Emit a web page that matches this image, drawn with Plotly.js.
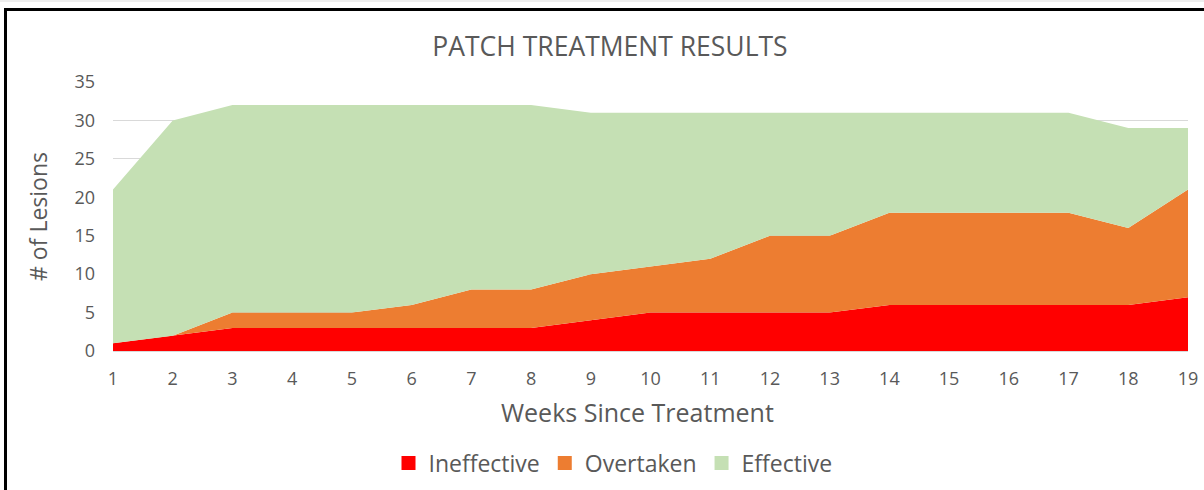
<!DOCTYPE html>
<html>
<head>
<meta charset="utf-8">
<script src="https://cdn.plot.ly/plotly-3.0.1.min.js"></script>
<style>
html, body { margin: 0; padding: 0; background: #fff; }
#wrap { position: relative; width: 1204px; height: 490px; overflow: hidden; }
#chart { position: absolute; left: 0; top: 0; width: 1204px; height: 490px; }
#frame { position: absolute; left: 4px; top: 8px; width: 1300px; height: 600px;
  border-left: 3px solid #000; border-top: 3px solid #000; pointer-events: none; }
#topline { position: absolute; left: 0; top: 0; width: 1204px; height: 2px; background: #eee; }
</style>
</head>
<body>
<div id="wrap">
  <div id="chart"></div>
  <div id="topline"></div>
  <div id="frame"></div>
</div>
<script>
const weeks = [1,2,3,4,5,6,7,8,9,10,11,12,13,14,15,16,17,18,19];
const ineffective = [1,2,3,3,3,3,3,3,4,5,5,5,5,6,6,6,6,6,7];
const overtaken   = [0,0,2,2,2,3,5,5,6,6,7,10,10,12,12,12,12,10,14];
const effective   = [20,28,27,27,27,26,24,24,21,20,19,16,16,13,13,13,13,13,8];
const seriesNames = ['Ineffective','Overtaken','Effective'];
const seriesColors = ['#ff0000','#ed7d31','#c5e0b4'];
const seriesData = [ineffective, overtaken, effective];
const xTitle = 'Weeks Since Treatment';

const FONT = 'Open Sans, Liberation Sans, sans-serif';
const traces = seriesData.map((vals, i) => ({
  x: weeks, y: vals, name: seriesNames[i], type: 'scatter', mode: 'lines',
  stackgroup: 'one', line: {width: 0, color: seriesColors[i]},
  fillcolor: seriesColors[i], showlegend: false
}));
// legend-only entries with square swatches
seriesNames.forEach((n, i) => traces.push({
  x: [null], y: [null], name: n, type: 'scatter', mode: 'markers',
  marker: {symbol: 'square', size: 14, color: seriesColors[i]}, showlegend: true
}));

const layout = {
  width: 1204, height: 490,
  margin: {l: 113, r: 16, t: 82, b: 139},
  paper_bgcolor: '#fff', plot_bgcolor: '#fff',
  font: {family: FONT, color: '#595959'},
  title: {text: 'PATCH TREATMENT RESULTS', font: {size: 26.5, color: '#595959', family: FONT},
          x: 610/1204, xref: 'container', xanchor: 'center', y: 1 - 47/490, yref: 'container', yanchor: 'middle'},
  xaxis: {range: [1, 19], tickvals: weeks, ticktext: weeks.map(String), showgrid: false,
          zeroline: false, showline: true, linecolor: '#d9d9d9', linewidth: 1, ticks: '',
          tickfont: {size: 18, color: '#595959'}, ticklabelstandoff: 11},
  yaxis: {range: [0, 35], dtick: 5, showgrid: true, gridcolor: '#d9d9d9', gridwidth: 1,
          zeroline: false, showline: false, ticks: '',
          tickfont: {size: 18, color: '#595959'}, ticklabelstandoff: 17,
          title: {text: '# of Lesions', font: {size: 23, color: '#595959'}, standoff: 20}},
  annotations: [{text: xTitle, xref: 'paper', yref: 'paper',
                 x: (637 - 113) / 1075, y: -(412 - 351) / 269, xanchor: 'center', yanchor: 'middle',
                 showarrow: false, font: {size: 25, color: '#595959', family: FONT}}],
  showlegend: true,
  legend: {orientation: 'h', x: 613/1204, xref: 'container', xanchor: 'center',
           y: 1 - 463/490, yref: 'container', yanchor: 'middle',
           font: {size: 23, color: '#595959'}, traceorder: 'normal'}
};

Plotly.newPlot('chart', traces, layout, {displayModeBar: false, staticPlot: true});
</script>
</body>
</html>
